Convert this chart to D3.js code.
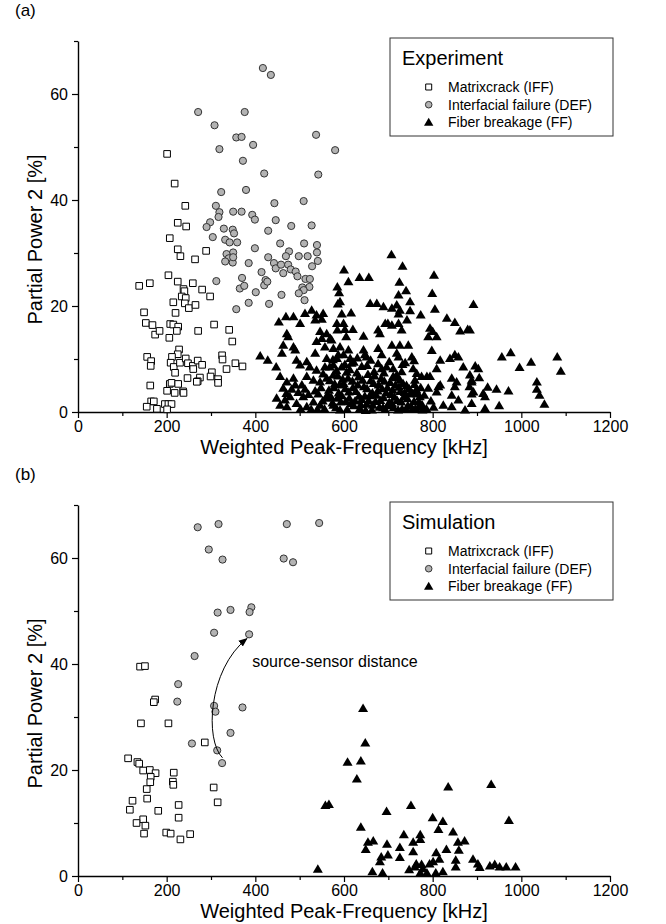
<!DOCTYPE html>
<html>
<head>
<meta charset="utf-8">
<script src="https://cdn.jsdelivr.net/npm/d3@7"></script>
<style>
    body { margin: 0; background: #fff; }
    svg text { font-family: "Liberation Sans", Arial, sans-serif; fill: #000; }
</style>
</head>
<body>
<svg id="chart" width="666" height="924"></svg>
<script>
/**
 * Data, each point is [weighted peak-frequency in kHz, partial power 2 in %].
 */
// Experiment
const expMatrix = [
    [201,48.7],[218,43.1],[242,38.9],[225,35.7],[244,35.0],[207,32.8],[225,30.7],[231,29.4],[264,28.8],[289,30.4],
    [138,23.8],[162,24.3],[204,25.8],[225,24.6],[238,23.2],[240,22.8],[234,21.8],[243,21.5],[259,24.3],[280,23.1],[298,21.8],
    [215,20.7],[220,18.7],[241,20.5],[250,19.6],[265,20.2],[149,18.8],[153,16.8],[168,16.4],[174,14.6],[184,15.3],[208,16.6],
    [215,16.5],[226,16.1],[223,15.3],[206,14.0],[271,15.3],[307,16.5],[341,15.5],[348,13.3],
    [156,10.4],[165,9.6],[164,8.7],[228,11.8],[225,10.9],[212,10.4],[209,9.3],[216,8.5],[219,7.4],[230,9.3],[243,10.1],
    [248,9.2],[259,8.7],[260,8.1],[270,9.7],[280,8.9],[325,10.7],[326,9.9],[355,9.2],[335,8.1],[371,8.6],[302,7.5],[275,6.5],
    [247,6.4],[270,5.8],[268,5.7],[316,6.2],[316,5.5],[299,6.7],
    [163,5.0],[207,5.3],[211,5.5],[226,5.3],[218,3.6],[237,3.9],[238,3.6],[201,4.0],[165,2.0],[171,2.0],[155,1.0],[178,0.6],
    [196,1.5],[204,1.5],[211,1.5],[201,0.5]
];

const expInterface = [
    [417,64.9],[435,63.6],[271,56.6],[376,56.6],[308,54.1],[357,51.8],[369,51.9],[395,50.4],[319,49.6],[372,47.4],[420,45.0],
    [537,52.3],[580,49.4],[542,44.8],
    [323,41.5],[379,41.9],[443,39.4],[509,39.8],[311,38.9],[319,37.7],[317,36.8],[350,37.8],[369,37.8],[393,37.2],[399,36.3],
    [298,35.8],[446,36.2],[290,34.9],[329,34.6],[349,34.4],[429,34.2],[481,35.1],[527,35.2],
    [352,33.7],[304,33.0],[332,32.5],[342,32.0],[359,32.0],[350,30.1],[399,30.9],[456,31.8],[510,31.8],[539,31.5],[539,30.1],
    [476,30.3],[469,29.4],[498,29.4],[518,29.4],[541,28.5],[528,27.5],[429,29.2],[442,28.1],[446,27.1],[458,27.8],[474,27.8],
    [463,26.2],[480,26.9],[491,26.5],[495,25.6],[513,25.1],[523,25.1],[506,23.5],[522,23.6],[509,23.0],[498,22.4],[511,21.1],
    [385,28.1],[414,26.4],[423,24.9],[420,23.9],[427,24.6],[401,22.6],[459,22.1],[431,20.4],[385,20.6],[357,19.4],[370,25.3],
    [365,23.3],[375,23.8],[312,24.7],[335,29.8],[340,29.0],[349,28.2],[332,28.4],[350,29.2]
];

const expFiber = [
    [707,29.7],[732,27.5],[600,26.8],[635,25.4],[656,25.4],[610,24.6],[725,24.5],[803,25.8],[585,23.6],[589,22.5],[740,22.9],
    [723,22.1],[799,22.4],[591,20.8],[586,20.4],
    [659,20.5],[674,20.5],[689,19.9],[708,19.6],[719,20.2],[726,19.2],[749,20.8],[749,19.1],[723,18.5],[805,19.4],[892,20.3],
    [595,18.5],[616,18.7],[773,18.3],[742,17.4],
    [584,16.7],[599,16.7],[585,15.5],[602,15.6],[620,15.6],[677,15.5],[693,16.7],[708,16.4],[723,16.7],[730,15.5],[681,14.8],
    [699,16.7],[605,14.2],
    [794,15.8],[800,15.2],[790,14.2],[809,14.2],[832,17.7],[850,16.9],[862,15.3],[879,15.6],[884,15.5],[644,14.3],
    [572,13.6],[591,12.3],[599,10.8],[587,10.8],[610,11.7],[617,9.2],[595,8.5],[614,10.1],[644,11.7],[651,10.4],[647,10.8],
    [677,12.0],[685,10.8],[708,12.6],[719,11.1],[723,10.4],[726,12.6],[753,10.4],[798,11.6],[817,9.8],[809,8.2],[839,10.1],
    [850,10.8],[858,10.4],[869,8.5],[896,8.7],
    [685,8.2],[696,8.5],[711,8.2],[719,7.0],[730,7.6],[711,6.7],[726,6.0],[756,8.2],[764,7.3],[775,6.7],[787,6.7],[794,6.7],
    [760,6.0],
    [813,4.8],[817,5.1],[790,4.5],[809,3.8],[843,6.4],[854,5.7],[850,4.8],[843,3.2],[858,2.3],[884,7.0],[888,6.0],[883,4.8],
    [892,3.8],[888,1.6],[824,1.3],[843,1.0],[873,0.4],[903,8.2],
    [956,10.4],[976,11.2],[996,8.4],[1022,9.4],[1081,10.4],[1089,7.7],[905,6.5],[888,5.7],[924,4.7],[944,4.3],[971,4.0],
    [914,3.5],[918,2.9],[888,3.4],[1035,5.7],[1035,4.3],[1041,3.2],[1052,1.5],[918,0.7],[950,1.2],
    [411,10.6],[428,9.8],[447,8.5],[453,17.0],[469,18.0],[486,18.0],[501,16.7],[512,18.6],[527,19.2],[538,18.3],[553,18.6],
    [535,17.4],[550,17.5],
    [471,14.8],[474,14.2],[463,12.6],[486,12.3],[490,11.7],[460,11.1],[546,15.2],[561,14.8],[569,13.9],[550,13.9],[576,12.0],
    [557,12.3],[538,13.3],[535,11.1],
    [493,9.8],[516,9.5],[501,8.9],[523,8.5],[561,10.1],[538,7.9],[557,8.5],[576,8.9],[584,10.1],
    [456,6.7],[471,5.7],[463,4.5],[486,6.4],[490,5.1],[505,5.1],[516,6.7],[531,6.0],[546,5.7],[561,6.4],[576,7.0],
    [448,2.6],[467,2.3],[478,2.9],[456,1.3],[471,1.0],[493,1.6],[508,2.9],[516,1.0],[531,1.9],[546,1.3],[561,2.6],[576,1.3],
    [566,4.1],[571,2.8],[579,5.3],[582,0.8],[588,3.6],[593,1.9],[597,6.2],[603,4.4],[607,0.5],[612,2.6],[619,5.8],[622,1.2],
    [627,3.9],[633,6.6],[636,0.7],[640,2.4],[645,4.8],[651,1.5],[654,7.1],[658,3.1],[663,0.4],[667,5.4],[671,2.0],[676,4.0],
    [680,0.9],[684,6.3],[689,2.7],[693,0.5],[698,4.6],[702,1.8],[706,3.3],[712,0.8],[716,5.1],[720,2.2],[727,3.9],[731,0.6],
    [735,2.9],[741,5.0],[744,1.2],[749,3.4],[754,0.5],[758,2.0],[763,4.2],[768,0.9],[771,2.9],[776,1.4],[781,3.2],[786,0.6],
    [796,2.1],[802,0.9],[622,9.4],[640,8.6],[660,9.8],[668,7.6],[702,9.5],[738,9.3],[745,12.6],[606,7.5],[575,9.9],[590,5.1],
    [542,3.4],[548,4.6],[552,2.1],[556,0.6],[563,3.3],[568,5.9],[574,1.7],[577,4.6],[585,2.6],[586,6.8],[591,0.4],[595,3.1],
    [599,5.4],[604,2.0],[609,6.4],[611,3.8],[616,1.6],[620,4.6],[625,2.1],[629,7.4],[631,5.1],[634,3.0],[638,1.4],[642,6.0],
    [647,3.0],[649,0.3],[652,4.4],[656,2.1],[660,5.9],[664,3.6],[665,1.3],[669,6.8],[673,3.2],[678,5.1],[682,2.2],[686,4.4],
    [688,0.8],[691,5.8],[695,3.6],[699,1.2],[704,5.6],[708,1.6],[710,4.1],[714,2.8],[717,6.5],[722,0.4],[724,4.7],[729,1.9],
    [733,5.4],[737,3.7],[740,0.5],[743,2.5],[747,4.4],[751,1.1],[755,3.5],[759,5.2],[761,0.6],[765,3.4],[769,1.9],[773,4.6],
    [777,0.4],[470,3.5],[482,4.3],[497,3.7],[502,0.6],[512,4.3],[520,3.3],[526,0.5],[535,4.0],[540,0.5],[553,7.2],[568,8.5],
    [583,7.8],[602,9.0],[613,8.0],[630,10.2],[652,8.8],[677,9.1],[690,7.4],[732,9.0],[758,9.7]
];

// Simulation
const simMatrix = [
    [174,33.3],[171,32.8],[142,28.8],[204,28.8],[113,22.2],[134,21.5],[138,21.2],[147,19.9],[162,20.0],[175,19.4],[164,18.7],
    [163,17.7],[216,19.5],[214,17.8],[215,17.2],[155,16.4],[156,14.6],[123,14.2],[117,12.5],[181,12.3],[227,13.4],[227,11.0],
    [147,10.7],[132,10.0],[152,9.5],[149,8.0],[199,8.2],[209,8.0],[231,6.9],[253,7.9],[286,25.2],[306,16.7],[315,13.9],
    [140,39.5],[151,39.6]
];

const simInterface = [
    [270,65.8],[317,66.4],[471,66.4],[544,66.6],[295,61.6],[326,59.7],[464,59.9],[485,59.2],[315,49.7],[344,50.2],[391,50.7],
    [387,49.8],[307,45.9],[386,45.6],[263,41.5],[226,36.2],[224,32.9],[307,32.1],[310,31.0],[371,31.8],[344,27.0],[257,25.0],
    [314,23.7],[325,21.3]
];

const simFiber = [
    [541,1.3],[558,13.3],[566,13.5],[643,31.6],[648,25.1],[608,21.5],[638,21.7],[629,18.3],[835,16.8],[932,17.3],[751,13.3],
    [696,12.2],[800,11.0],[823,10.3],[972,10.5],[638,9.2],[813,8.8],[846,8.3],[735,7.8],[772,7.8],[772,6.9],[756,6.4],
    [666,6.6],[654,6.4],[649,5.0],[697,6.0],[699,4.0],[726,5.4],[726,3.5],[756,4.6],[857,6.4],[872,6.6],[859,4.9],[831,5.0],
    [808,4.4],[815,3.2],[801,2.7],[793,2.3],[684,3.6],[681,2.7],[763,2.3],[775,2.2],[760,1.7],[778,1.4],[852,3.0],[852,1.7],
    [891,3.2],[902,2.3],[906,1.6],[929,1.9],[940,2.2],[951,1.7],[966,1.7],[987,1.7],[747,1.2],[664,0.8],[687,0.6],[772,0.6],
    [787,0.6],[807,0.6],[823,0.8]
];

// Labels and ticks
const seriesLabels = ['Matrixcrack (IFF)', 'Interfacial failure (DEF)', 'Fiber breakage (FF)'];
const panelLabels = ['(a)', '(b)'];
const legendTitles = ['Experiment', 'Simulation'];
const xTicks = [0, 200, 400, 600, 800, 1000, 1200],
    xMinorTicks = [100, 300, 500, 700, 900, 1100],
    yTicks = [0, 20, 40, 60],
    yMinorTicks = [10, 30, 50, 70];
const xTitle = 'Weighted Peak-Frequency [kHz]',
    yTitle = 'Partial Power 2 [%]';

// Annotation of panel (b): curve from start point through two control points to the end point
const annotationText = 'source-sensor distance',
    annotationAt = [393, 39.5],
    annotationCurve = [[326, 22.3], [286, 25.6], [293, 38.9], [381, 44.8]];

/**
 * Visual configs.
 */
const margin = { top: 41, left: 78 },
    plotWidth = 532,
    plotHeight = 371,
    panelOffset = 464,
    fontFamily = '"Liberation Sans", Arial, sans-serif';

const xScale = d3.scaleLinear().domain([0, 1200]).range([0, plotWidth]),
    yScale = d3.scaleLinear().domain([0, 70]).range([plotHeight, 0]);

const trianglePath = 'M0,-4.9L5,3.6L-5,3.6Z',
    squarePath = 'M-3.3,-3.3H3.3V3.3H-3.3Z';

/**
 * Draws one marker type into a container.
 */
function drawMarkers(container, kind, points) {
    const sel = container.append('g').attr('class', kind)
        .selectAll('.m').data(points).enter();

    if (kind === 'circle') {
        sel.append('circle')
            .attr('cx', d => xScale(d[0]))
            .attr('cy', d => yScale(d[1]))
            .attr('r', 3.6)
            .style('fill', '#b3b3b3')
            .style('stroke', '#333')
            .style('stroke-width', 1);
    } else {
        sel.append('path')
            .attr('transform', d => 'translate(' + xScale(d[0]) + ',' + yScale(d[1]) + ')')
            .attr('d', kind === 'square' ? squarePath : trianglePath)
            .style('fill', kind === 'square' ? '#fff' : '#000')
            .style('stroke', kind === 'square' ? '#000' : 'none')
            .style('stroke-width', 1);
    }
}

/**
 * Draws one panel.
 */
function drawPanel(svg, i, series) {
    const top = margin.top + i * panelOffset;
    const g = svg.append('g').attr('transform', 'translate(' + margin.left + ',' + top + ')');

    // Axes
    g.append('g').attr('transform', 'translate(0,' + plotHeight + ')')
        .call(d3.axisBottom(xScale).tickValues(xTicks).tickFormat(d3.format('d'))
            .tickSize(6).tickSizeOuter(0).tickPadding(3));
    g.append('g').attr('transform', 'translate(0,' + plotHeight + ')')
        .call(d3.axisBottom(xScale).tickValues(xMinorTicks).tickSize(4).tickFormat(''))
        .call(s => s.select('.domain').remove());

    g.append('g')
        .call(d3.axisLeft(yScale).tickValues(yTicks).tickFormat(d3.format('d'))
            .tickSize(6).tickSizeOuter(0).tickPadding(4));
    g.append('g')
        .call(d3.axisLeft(yScale).tickValues(yMinorTicks).tickSize(4).tickFormat(''))
        .call(s => s.select('.domain').remove());

    g.selectAll('.domain').style('stroke-width', 1.4);
    g.selectAll('.tick line').style('stroke-width', 1.2);
    g.selectAll('.tick text')
        .style('font-family', fontFamily)
        .style('font-size', '16px');

    // Axis titles
    g.append('text')
        .attr('x', plotWidth / 2)
        .attr('y', plotHeight + 41.5)
        .attr('text-anchor', 'middle')
        .style('font-size', '20px')
        .text(xTitle);

    g.append('text')
        .attr('transform', 'translate(-36,' + (plotHeight / 2 + 13) + ') rotate(-90)')
        .attr('text-anchor', 'middle')
        .style('font-size', '20px')
        .text(yTitle);

    // Markers
    drawMarkers(g, 'square', series[0]);
    drawMarkers(g, 'circle', series[1]);
    drawMarkers(g, 'triangle', series[2]);

    // Legend
    const legend = g.append('g').attr('transform', 'translate(312,-3)');
    legend.append('rect')
        .attr('width', 223)
        .attr('height', 98)
        .style('fill', '#fff')
        .style('stroke', '#333')
        .style('stroke-width', 1);
    legend.append('text')
        .attr('x', 12)
        .attr('y', 27)
        .style('font-size', '20px')
        .text(legendTitles[i]);

    const kinds = ['square', 'circle', 'triangle'];
    seriesLabels.forEach((label, k) => {
        const row = legend.append('g').attr('transform', 'translate(0,' + (49 + k * 17.7) + ')');
        const sym = row.append('g').attr('transform', 'translate(38.7,0)');
        if (kinds[k] === 'circle') {
            sym.append('circle').attr('r', 3.3)
                .style('fill', '#b3b3b3').style('stroke', '#333');
        } else {
            sym.append('path')
                .attr('d', kinds[k] === 'square' ? 'M-3,-3H3V3H-3Z' : 'M0,-4.6L4.7,3.4L-4.7,3.4Z')
                .style('fill', kinds[k] === 'square' ? '#fff' : '#000')
                .style('stroke', kinds[k] === 'square' ? '#000' : 'none');
        }
        row.append('text')
            .attr('x', 58)
            .attr('y', 5)
            .style('font-size', '14px')
            .text(label);
    });

    // Panel label
    svg.append('text')
        .attr('x', 15)
        .attr('y', 15.5 + i * panelOffset)
        .style('font-size', '17px')
        .text(panelLabels[i]);

    return g;
}

/**
 * Main.
 */
const svg = d3.select('#chart');
svg.append('rect').attr('width', 666).attr('height', 924).style('fill', '#fff');

drawPanel(svg, 0, [expMatrix, expInterface, expFiber]);
const gb = drawPanel(svg, 1, [simMatrix, simInterface, simFiber]);

// Annotation arrow for the simulation panel
const defs = svg.append('defs');
defs.append('marker')
    .attr('id', 'arrowhead')
    .attr('viewBox', '0 0 10 10')
    .attr('refX', 9)
    .attr('refY', 5)
    .attr('markerWidth', 9)
    .attr('markerHeight', 9)
    .attr('markerUnits', 'userSpaceOnUse')
    .attr('orient', 'auto')
  .append('path')
    .attr('d', 'M0,1L10,5L0,9Z')
    .style('fill', '#000');

const c = annotationCurve.map(p => [xScale(p[0]), yScale(p[1])]);
gb.append('path')
    .attr('d', 'M' + c[0] + 'C' + c[1] + ' ' + c[2] + ' ' + c[3])
    .style('fill', 'none')
    .style('stroke', '#000')
    .style('stroke-width', 1)
    .attr('marker-end', 'url(#arrowhead)');

gb.append('text')
    .attr('x', xScale(annotationAt[0]))
    .attr('y', yScale(annotationAt[1]))
    .style('font-size', '16px')
    .text(annotationText);
</script>
</body>
</html>
